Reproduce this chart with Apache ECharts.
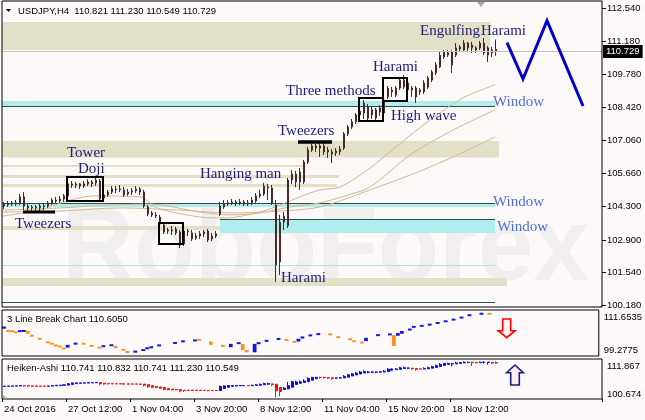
<!DOCTYPE html>
<html><head><meta charset="utf-8">
<script src="https://cdn.jsdelivr.net/npm/echarts@6/dist/echarts.min.js"></script>
<style>html,body{margin:0;padding:0;background:#fdf9f9;}#c{width:645px;height:420px;}</style>
</head><body><div id="c"></div><script>
// ---------- DATA ----------
const N = 150;
const categories = Array.from({length: N}, (_, i) => String(i));
const tickLabels = ['24 Oct 2016','27 Oct 12:00','1 Nov 04:00','3 Nov 20:00','8 Nov 12:00','11 Nov 04:00','15 Nov 20:00','18 Nov 12:00'];
const TICK_EVERY = 16;
const priceTicks = [112.540,111.180,109.780,108.420,107.060,105.660,104.300,102.900,101.540,100.180];
const lastPrice = 110.729;
const symbolTitle = 'USDJPY,H4';
const lbTitle = '3 Line Break Chart 110.6050';
const haTitle = 'Heiken-Ashi 110.741 110.832 110.741 111.230 110.549';
const lbTicks = [99.2775, 111.6535];
const haTicks = [100.674, 111.867];

// candles: [open, close, low, high]
const candles = [
[104.30,104.38,104.18,104.47],[104.38,104.34,104.26,104.51],[104.38,104.43,104.30,104.51],[104.43,104.38,104.30,104.55],
[104.43,104.68,104.34,104.80],[104.68,104.30,104.13,104.88],[104.30,104.22,104.09,104.38],[104.22,104.26,104.09,104.34],
[104.26,104.22,104.09,104.34],[104.22,104.30,104.09,104.38],[104.30,104.26,104.13,104.43],[104.30,104.43,104.22,104.51],
[104.43,104.55,104.34,104.63],[104.55,104.51,104.43,104.68],[104.51,104.59,104.43,104.72],[104.59,104.72,104.47,104.80],
[104.72,105.22,104.63,105.30],[105.22,105.17,105.05,105.34],[105.17,105.22,105.05,105.30],[105.22,105.13,105.01,105.26],
[105.13,105.22,105.05,105.34],[105.22,105.30,105.13,105.42],[105.30,105.22,105.09,105.38],[105.26,105.38,105.13,105.47],
[105.34,104.59,104.47,105.42],[104.63,104.76,104.55,104.84],[104.76,104.88,104.68,104.97],[104.88,105.01,104.80,105.13],
[105.01,104.97,104.84,105.13],[104.97,105.01,104.88,105.17],[104.97,104.76,104.68,105.09],[104.80,104.88,104.72,105.01],
[104.88,104.93,104.76,105.05],[104.93,105.01,104.84,105.13],[105.01,104.88,104.76,105.09],[104.88,104.30,104.22,104.97],
[104.26,103.97,103.88,104.34],[104.01,103.93,103.84,104.09],[103.93,103.88,103.80,104.05],[103.84,103.55,103.47,103.93],
[103.51,103.22,103.14,103.59],[103.26,103.30,103.14,103.39],[103.30,103.26,103.09,103.47],[103.34,103.18,103.09,103.43],
[103.22,102.68,102.55,103.30],[102.72,103.26,102.64,103.34],[103.26,103.22,103.05,103.34],[103.18,102.93,102.84,103.30],
[102.97,103.05,102.89,103.18],[103.05,103.14,102.93,103.26],[103.14,103.22,103.01,103.30],[103.26,102.89,102.80,103.34],
[102.93,103.05,102.84,103.18],[103.05,103.14,102.97,103.26],[103.97,104.30,103.88,104.47],[104.26,104.38,104.18,104.55],
[104.38,104.43,104.30,104.55],[104.43,104.47,104.34,104.59],[104.47,104.43,104.30,104.55],[104.43,104.47,104.34,104.59],
[104.47,104.38,104.30,104.55],[104.38,104.43,104.30,104.55],[104.43,104.55,104.34,104.68],[104.51,104.72,104.43,104.84],
[104.72,104.80,104.63,104.97],[104.80,105.13,104.72,105.26],[105.09,105.05,104.55,105.22],[105.05,104.43,104.34,105.17],
[104.34,101.85,101.14,104.55],[101.97,103.63,101.43,103.93],[103.63,103.88,103.30,104.05],[103.47,105.38,103.39,105.47],
[105.38,105.63,105.22,105.80],[105.63,105.30,105.09,105.76],[105.30,105.72,104.97,105.88],[105.30,106.13,105.22,106.22],
[106.13,106.63,106.05,106.76],[106.63,106.80,106.55,106.88],[106.80,106.71,106.55,106.88],[106.71,106.80,106.34,106.92],
[106.80,106.55,106.42,106.92],[106.55,106.63,106.30,106.76],[106.55,106.46,106.09,106.67],[106.51,106.59,106.38,106.71],
[106.55,106.67,106.42,106.80],[106.71,107.30,106.63,107.38],[107.30,107.59,107.21,107.67],[107.59,107.80,107.51,107.92],
[107.80,108.09,107.71,108.17],[108.09,108.25,108.00,108.55],[108.17,108.59,107.92,108.71],[108.42,107.96,107.88,108.55],
[108.09,108.30,107.92,108.42],[107.96,108.30,107.88,108.38],[108.21,108.38,108.05,108.50],[108.17,108.71,108.13,108.80],
[108.84,109.21,108.75,109.29],[109.05,109.13,108.84,109.25],[108.92,109.21,108.84,109.29],[109.21,109.54,109.13,109.67],
[109.54,109.25,109.17,109.75],[109.42,109.13,109.05,109.50],[109.21,109.13,108.84,109.29],[109.21,108.84,108.59,109.29],
[109.13,109.05,108.92,109.21],[109.05,109.42,108.96,109.54],[109.25,109.63,109.17,109.71],[109.54,109.88,109.46,109.96],
[109.84,110.17,109.75,110.29],[110.09,110.58,110.04,110.71],[110.50,110.71,110.42,110.79],[110.67,110.58,110.50,110.79],
[110.71,110.17,109.84,110.79],[110.58,110.88,110.50,111.08],[110.83,110.92,110.75,111.00],[111.08,110.79,110.71,111.21],
[111.08,110.88,110.75,111.13],[110.88,111.00,110.67,111.13],[110.79,110.88,110.67,110.96],[110.88,111.08,110.79,111.17],
[111.08,110.67,110.58,111.29],[110.88,110.58,110.29,110.96],[110.67,110.79,110.50,110.92],[110.821,110.729,110.549,111.230]
];

// moving averages: [bar position, price]
const maFast = [[-0.5,103.88],[9,104.13],[16.5,104.55],[22.75,104.72],[34,104.68],[38.25,104.22],[49,103.84],[55.25,103.80],[64,104.05],[69,104.34],[74,104.68],[79,104.97],[84,105.09],[91.5,105.88],[97,106.63],[106.5,107.88],[114.75,108.80],[122.75,109.34]];
const maMid = [[-0.5,104.13],[14,104.22],[26.5,104.34],[36.5,104.38],[49,104.05],[56.5,103.93],[64,104.01],[71.5,104.26],[79,104.43],[85.25,104.72],[91.5,105.09],[101.5,106.42],[112.25,107.46],[122.75,108.30]];
const maSlow = [[-0.5,104.05],[14,104.09],[29,104.22],[44,104.13],[56.5,104.01],[69,104.09],[79,104.26],[91.5,104.97],[104.75,105.80],[116,106.63],[122.75,107.17]];

// zones: [from bar, to bar, low, high]
const zones = [
[-0.5,121.5,110.793,111.957],[-0.5,122.75,108.462,108.670],[-0.5,123.75,106.319,107.005],
[-0.5,75,105.924,106.007],[-0.5,83.75,105.466,105.591],[-0.5,83.25,105.091,105.216],
[-0.5,65.25,103.302,103.468],[-0.5,122.75,104.259,104.425],[54,122.75,103.177,103.760],
[-0.5,125.75,100.972,101.305]
];
const zoneKinds = ['b','c','b','b','b','b','b','c','c','b'];
// level lines: [from bar, to bar, price]
const levels = [[-0.5,122.75,108.462],[-0.5,122.75,104.425],[54,122.75,103.760],[-0.5,122.75,101.845],[-0.5,122.75,100.306]];
const levelKinds = ['d','d','d','c','d'];
// pattern boxes: [from bar, to bar, low, high]
const boxes = [[15.75,24.75,104.51,105.51],[38.75,44.75,102.72,103.59],[88.75,94.75,107.84,108.79],[94.75,100.75,108.67,109.63]];
// pattern bars: [from bar, to bar, price]
const marks = [[4.75,12.75,104.05],[73.5,82,106.96]];
// annotations: [bar, price]
const notes = [[15.75,106.51],[18.5,105.84],[2.75,103.55],[49,105.63],[69.25,101.32],[68.5,107.42],[70.5,109.09],[92.25,110.09],[96.75,108.05],[104,111.58],[119.25,111.58],[122.25,108.63],[122.25,104.47],[123.25,103.43]];
const noteTexts = ['Tower','Doji','Tweezers','Hanging man','Harami','Tweezers','Three methods','Harami','High wave','Engulfing','Harami','Window','Window','Window'];
const noteKinds = ['n','n','n','n','n','n','n','n','n','n','n','w','w','w'];
// forecast zigzag: [bar, price]
const forecast = [[125.75,111.096],[129.75,109.585],[135.75,112.012],[144.75,108.462]];

// 3 line break bricks: [bar, open, close]
const bricks = [
[0,106.62,107.20],[1,106.16,105.80],[2,106.10,105.80],[3,105.80,105.53],[4,105.80,106.16],[5,105.85,106.16],
[6,106.08,105.26],[7,104.99,104.45],[9,104.17,103.63],[11,103.17,102.73],[12,102.73,102.46],[13,102.27,101.98],
[14,101.98,101.64],[15,101.45,101.10],[16,101.53,102.27],[18,102.46,102.73],[20,102.73,102.46],[22,102.19,101.81],
[24,101.64,101.37],[25,101.64,102.19],[27,101.98,102.35],[28,101.98,101.37],[30,101.18,100.72],[31,100.55,100.17],
[33,100.17,100.72],[35,100.64,101.10],[36,101.18,101.53],[37,101.45,101.81],[39,101.98,102.27],[43,102.54,103.00],
[45,103.08,103.36],[48,103.28,103.63],[49,103.82,103.44],[52,103.17,102.27],[55,102.19,101.81],[57,101.64,102.54],
[59,102.46,103.00],[60,102.54,100.91],[61,100.91,100.28],[63,100.28,102.54],[64,102.46,103.00],[66,103.08,103.63],
[69,103.63,104.09],[71,103.82,103.36],[73,103.28,102.89],[74,103.17,103.90],[75,103.98,104.53],[77,104.64,104.99],
[79,104.99,105.34],[82,105.26,104.91],[84,104.53,104.17],[87,103.98,103.63],[88,103.44,103.08],[90,103.08,102.73],
[91,103.28,104.17],[94,104.72,105.07],[97,104.91,105.26],[98,104.91,101.98],[99,104.72,105.45],[100,105.26,106.00],
[102,106.16,106.62],[103,106.97,107.25],[105,107.25,107.52],[107,107.52,107.90],[109,107.98,108.33],[111,108.44,108.80],
[113,108.88,109.26],[115,109.42,109.80],[117,109.97,110.51],[120,110.51,110.78],[122,110.78,110.51]
];

// Heiken-Ashi: [open, close, low, high]
const heiken = [
[104.20,104.26,104.18,104.30],[104.23,104.29,104.21,104.33],[104.26,104.32,104.24,104.36],[104.29,104.35,104.27,104.39],
[104.32,104.46,104.30,104.55],[104.39,104.36,104.10,104.45],[104.38,104.30,104.05,104.40],[104.34,104.28,104.08,104.36],
[104.31,104.26,104.10,104.33],[104.29,104.25,104.12,104.31],[104.27,104.24,104.12,104.29],[104.26,104.32,104.24,104.40],
[104.29,104.45,104.27,104.52],[104.37,104.52,104.35,104.58],[104.44,104.55,104.42,104.62],[104.50,104.64,104.48,104.70],
[104.57,104.95,104.55,105.10],[104.76,105.17,104.74,105.25],[104.96,105.19,104.94,105.25],[105.07,105.16,105.03,105.22],
[105.12,105.19,105.08,105.25],[105.15,105.27,105.13,105.33],[105.21,105.25,105.17,105.30],[105.23,105.31,105.20,105.38],
[105.27,104.95,104.55,105.30],[105.11,104.90,104.70,105.12],[105.00,104.92,104.75,105.02],[104.96,104.94,104.85,104.98],
[104.95,104.93,104.85,104.97],[104.94,104.92,104.86,104.96],[104.93,104.85,104.70,104.95],[104.89,104.86,104.75,104.91],
[104.88,104.85,104.77,104.90],[104.87,104.84,104.80,104.89],[104.86,104.80,104.75,104.88],[104.83,104.55,104.22,104.85],
[104.69,104.10,103.88,104.70],[104.40,103.96,103.84,104.41],[104.18,103.90,103.80,104.20],[104.04,103.68,103.47,104.05],
[103.86,103.35,103.14,103.87],[103.61,103.27,103.14,103.62],[103.44,103.25,103.09,103.45],[103.35,103.24,103.09,103.36],
[103.30,102.95,102.55,103.31],[103.12,103.05,102.64,103.13],[103.12,103.10,103.02,103.14],[103.11,103.08,102.90,103.13],
[103.10,103.08,102.95,103.12],[103.09,103.07,102.97,103.11],[103.08,103.06,103.00,103.10],[103.07,103.04,102.85,103.09],
[103.06,103.04,102.90,103.08],[103.05,103.03,102.98,103.07],[103.04,104.15,103.02,104.47],[103.60,104.34,103.58,104.55],
[103.97,104.41,103.95,104.55],[104.19,104.46,104.17,104.59],[104.32,104.44,104.30,104.55],[104.38,104.46,104.34,104.59],
[104.42,104.43,104.30,104.55],[104.43,104.42,104.30,104.45],[104.42,104.50,104.34,104.68],[104.46,104.63,104.43,104.84],
[104.54,104.78,104.52,104.97],[104.66,104.98,104.64,105.26],[104.82,104.98,104.55,105.22],[104.90,104.75,104.34,104.92],
[104.82,102.97,101.14,104.83],[103.90,102.74,101.43,103.93],[103.32,103.72,103.30,104.05],[103.52,104.41,103.39,105.47],
[103.97,105.51,103.95,105.80],[104.74,105.45,104.72,105.76],[105.10,105.47,104.97,105.88],[105.28,105.72,105.22,106.22],
[105.50,106.39,105.48,106.76],[105.95,106.72,105.93,106.88],[106.33,106.74,106.31,106.88],[106.72,106.68,106.34,106.92],
[106.70,106.62,106.42,106.92],[106.66,106.56,106.30,106.76],[106.61,106.45,106.09,106.67],[106.53,106.55,106.38,106.71],
[106.54,106.61,106.42,106.80],[106.58,107.00,106.56,107.38],[106.79,107.44,106.77,107.67],[107.12,107.70,107.10,107.92],
[107.41,107.94,107.39,108.17],[107.68,108.22,107.66,108.55],[107.95,108.35,107.92,108.71],[108.15,108.20,107.88,108.55],
[108.18,108.21,107.92,108.42],[108.19,108.21,107.88,108.38],[108.20,108.28,108.05,108.50],[108.24,108.45,108.13,108.80],
[108.35,109.02,108.33,109.29],[108.69,109.07,108.67,109.25],[108.88,109.10,108.84,109.29],[108.99,109.40,108.97,109.67],
[109.20,109.43,109.17,109.75],[109.31,109.32,109.05,109.50],[109.31,109.12,108.84,109.33],[109.22,108.98,108.59,109.29],
[109.10,109.08,108.92,109.21],[109.09,109.24,108.96,109.54],[109.16,109.44,109.14,109.71],[109.30,109.71,109.28,109.96],
[109.50,110.01,109.48,110.29],[109.76,110.36,109.74,110.71],[110.06,110.60,110.04,110.79],[110.33,110.64,110.31,110.79],
[110.48,110.55,109.84,110.79],[110.52,110.76,110.50,111.08],[110.64,110.90,110.62,111.00],[110.77,110.95,110.71,111.21],
[110.86,110.96,110.75,111.13],[110.91,110.85,109.90,111.13],[110.88,110.83,110.67,110.96],[110.85,110.97,110.79,111.17],
[110.91,110.95,110.58,111.29],[110.93,110.98,110.29,110.99],[110.95,110.72,110.50,110.96],[110.832,110.741,110.549,111.230]
];

// ---------- STYLE ----------
const SANS = '"Liberation Sans", Arial, sans-serif';
const SERIF = '"Liberation Serif", "Times New Roman", serif';
const NAVY = '#22207a', WINBLUE = '#5070d8', BEIGE = '#e2e0c6', CYAN = '#b0eeee', DARKLINE = '#2f4f4f';
const TAN = '#d6b892', CANDLE = '#4a2828', LB_UP = '#1414e0', LB_DN = '#f8941e', HA_UP = '#0a0ae6', HA_DN = '#f01010';

// main chart scale: 112.540 at y=8, 100.180 at y=305, frame y 1..307
const PPU = (305 - 8) / (112.540 - 100.180);
const MAIN_MAX = 112.540 + 7 / PPU, MAIN_MIN = 100.180 - 2 / PPU;

const chart = echarts.init(document.getElementById('c'), null, {renderer: 'canvas'});

const last = candles[candles.length - 1];
const header = symbolTitle + '  ' + [last[0], last[3], last[2], last[1]].map(v => v.toFixed(3)).join(' ');

function zoneItem(params, api) {
  const a = api.coord([api.value(0), api.value(3)]);
  const b = api.coord([api.value(1), api.value(2)]);
  return {type: 'rect', shape: {x: a[0], y: a[1], width: b[0] - a[0], height: b[1] - a[1]},
    style: {fill: zoneKinds[params.dataIndex] === 'c' ? CYAN : BEIGE}};
}
function levelItem(params, api) {
  const a = api.coord([api.value(0), api.value(2)]);
  const b = api.coord([api.value(1), api.value(2)]);
  const y = Math.round(a[1]) + 0.5;
  return {type: 'line', shape: {x1: a[0], y1: y, x2: b[0], y2: y},
    style: {stroke: levelKinds[params.dataIndex] === 'c' ? '#a8e6ee' : DARKLINE, lineWidth: 1}};
}
function boxItem(params, api) {
  const a = api.coord([api.value(0), api.value(3)]);
  const b = api.coord([api.value(1), api.value(2)]);
  return {type: 'rect', shape: {x: a[0], y: a[1], width: b[0] - a[0], height: b[1] - a[1]},
    style: {fill: 'none', stroke: '#000', lineWidth: 2}};
}
function markItem(params, api) {
  const a = api.coord([api.value(0), api.value(2)]);
  const b = api.coord([api.value(1), api.value(2)]);
  return {type: 'line', shape: {x1: a[0], y1: a[1], x2: b[0], y2: a[1]},
    style: {stroke: '#000', lineWidth: params.dataIndex === 0 ? 3 : 3.5}};
}
function noteItem(params, api) {
  const p = api.coord([api.value(0), api.value(1)]);
  return {type: 'text', x: p[0], y: p[1], style: {text: noteTexts[params.dataIndex],
    fill: noteKinds[params.dataIndex] === 'w' ? WINBLUE : NAVY, font: '15px ' + SERIF, align: 'left', verticalAlign: 'middle'}};
}
function brickItem(params, api) {
  const o = api.value(1), c = api.value(2);
  const a = api.coord([api.value(0), Math.max(o, c)]);
  const b = api.coord([api.value(0), Math.min(o, c)]);
  const w = api.size([1, 0])[0] * 0.95;
  const h = Math.max(2, b[1] - a[1]);
  return {type: 'rect', shape: {x: a[0] - w / 2, y: (a[1] + b[1]) / 2 - h / 2, width: w, height: h},
    style: {fill: c > o ? LB_UP : LB_DN}};
}
// right-hand price scale: tick mark + label at each price tick value
function priceTickItem(params, api) {
  const v = api.value(1);
  const y = Math.round(api.coord([0, v])[1]) + 0.5;
  const x = params.coordSys.x + params.coordSys.width;
  return {type: 'group', children: [
    {type: 'line', shape: {x1: x, y1: y, x2: x + 4, y2: y}, style: {stroke: '#000', lineWidth: 1}},
    {type: 'text', x: x + 5, y: y, style: {text: v.toFixed(3), font: '9.5px ' + SANS, fill: '#000', align: 'left', verticalAlign: 'middle'}}
  ]};
}

const hiddenCat = (g) => ({type: 'category', gridIndex: g, data: categories, boundaryGap: true, show: false});

const option = {
  animation: false,
  backgroundColor: '#fdf9f9',
  textStyle: {fontFamily: SANS},
  grid: [
    {left: 2, top: 1, width: 600, height: 306, show: true, borderColor: '#000', borderWidth: 1, backgroundColor: 'transparent', z: 10},
    {left: 2, top: 310, width: 600, height: 46, show: true, borderColor: '#000', borderWidth: 1, backgroundColor: 'transparent', z: 10},
    {left: 2, top: 359, width: 600, height: 40, show: true, borderColor: '#000', borderWidth: 1, backgroundColor: 'transparent', z: 10}
  ],
  xAxis: [
    hiddenCat(0),
    {type: 'value', gridIndex: 0, min: -0.5, max: N - 0.5, show: false},
    hiddenCat(1),
    {type: 'category', gridIndex: 2, data: categories, boundaryGap: true,
      axisLine: {show: false},
      axisTick: {show: true, length: 3, lineStyle: {color: '#000'},
        interval: (i) => i % TICK_EVERY === 0 && i / TICK_EVERY < tickLabels.length},
      axisLabel: {show: true, color: '#000', fontSize: 9.5, fontFamily: SANS, align: 'left', margin: 5,
        interval: (i) => i % TICK_EVERY === 0 && i / TICK_EVERY < tickLabels.length,
        formatter: (v, i) => tickLabels[i / TICK_EVERY] || ''}}
  ],
  yAxis: [
    {type: 'value', gridIndex: 0, position: 'right', min: MAIN_MIN, max: MAIN_MAX, show: false},
    {type: 'value', gridIndex: 1, position: 'right', min: lbTicks[0], max: lbTicks[1],
      splitLine: {show: false}, axisLine: {show: false}, axisTick: {show: false},
      axisLabel: {show: true, color: '#000', fontSize: 9.5, fontFamily: SANS, margin: 5, customValues: lbTicks,
        formatter: (v) => (v > lbTicks[0] + 1 ? '{t|' : '{b|') + v.toFixed(4) + '}',
        rich: {t: {padding: [14, 0, 0, 0], fontSize: 9.5, color: '#000'}, b: {padding: [0, 0, 11, 0], fontSize: 9.5, color: '#000'}}}},
    {type: 'value', gridIndex: 2, position: 'right', min: haTicks[0], max: haTicks[1],
      splitLine: {show: false}, axisLine: {show: false}, axisTick: {show: false},
      axisLabel: {show: true, color: '#000', fontSize: 9.5, fontFamily: SANS, margin: 5, customValues: haTicks,
        formatter: (v) => (v > haTicks[0] + 1 ? '{t|' : '{b|') + v.toFixed(3) + '}',
        rich: {t: {padding: [15, 0, 0, 0], fontSize: 9.5, color: '#000'}, b: {padding: [0, 0, 10, 0], fontSize: 9.5, color: '#000'}}}}
  ],
  graphic: [
    {type: 'text', x: 62, y: 251, z: 0, silent: true, scaleX: 0.96,
      style: {text: 'RoboForex', font: 'bold 104px ' + SANS, fill: '#f0eeee', verticalAlign: 'middle'}},
    {type: 'polygon', z: 100, shape: {points: [[6, 9], [11, 9], [8.5, 12]]}, style: {fill: '#000'}},
    {type: 'text', x: 18, y: 11, z: 100, style: {text: header, font: '9.5px ' + SANS, fill: '#000', verticalAlign: 'middle'}},
    {type: 'text', x: 7, y: 319, z: 100, style: {text: lbTitle, font: '9.5px ' + SANS, fill: '#000', verticalAlign: 'middle'}},
    {type: 'text', x: 7, y: 368, z: 100, style: {text: haTitle, font: '9.5px ' + SANS, fill: '#000', verticalAlign: 'middle'}},
    {type: 'polygon', z: 100, shape: {points: [[477, 2], [485, 2], [481, 7]]}, style: {fill: '#a8a8a8'}},
    {type: 'polygon', z: 100, shape: {points: [[3, 395], [3, 398.5], [7, 398.5]]}, style: {fill: '#a8a8a8'}},
    {type: 'polygon', z: 100, shape: {points: [[502.7, 319], [510.7, 319], [510.7, 330.7], [515, 330.7], [506.7, 337.7], [498.3, 330.7], [502.7, 330.7]]},
      style: {fill: '#fff4f4', stroke: '#ff0000', lineWidth: 1.6}},
    {type: 'polygon', z: 100, shape: {points: [[515, 365], [523.3, 372.7], [519.3, 372.7], [519.3, 385], [510.7, 385], [510.7, 372.7], [506.7, 372.7]]},
      style: {fill: '#fbeef3', stroke: '#1c1c80', lineWidth: 1.6}}
  ],
  series: [
    {type: 'custom', name: 'zones', xAxisIndex: 1, yAxisIndex: 0, z: 1, silent: true,
      encode: {x: [0, 1], y: [2, 3]}, renderItem: zoneItem, data: zones},
    {type: 'custom', name: 'levels', xAxisIndex: 1, yAxisIndex: 0, z: 1, silent: true,
      encode: {x: [0, 1], y: 2}, renderItem: levelItem, data: levels},
    {type: 'custom', name: 'price scale', xAxisIndex: 1, yAxisIndex: 0, z: 5, silent: true, clip: false,
      encode: {x: 0, y: 1}, renderItem: priceTickItem, data: priceTicks.map(v => [0, v])},
    {type: 'line', name: 'MA fast', xAxisIndex: 1, yAxisIndex: 0, z: 2, smooth: 0.3, symbol: 'none', silent: true,
      lineStyle: {color: TAN, width: 1}, data: maFast},
    {type: 'line', name: 'MA mid', xAxisIndex: 1, yAxisIndex: 0, z: 2, smooth: 0.3, symbol: 'none', silent: true,
      lineStyle: {color: TAN, width: 1}, data: maMid},
    {type: 'line', name: 'MA slow', xAxisIndex: 1, yAxisIndex: 0, z: 2, smooth: 0.3, symbol: 'none', silent: true,
      lineStyle: {color: TAN, width: 1}, data: maSlow},
    {type: 'candlestick', name: 'USDJPY', xAxisIndex: 0, yAxisIndex: 0, z: 3, barWidth: 2, silent: true,
      itemStyle: {color: '#ffffff', color0: CANDLE, borderColor: CANDLE, borderColor0: CANDLE, borderWidth: 1},
      data: candles,
      markLine: {silent: true, symbol: ['none', 'none'], animation: false,
        lineStyle: {color: '#c4c4c4', width: 1, type: 'solid'},
        label: {show: true, position: 'end', distance: 1, formatter: () => lastPrice.toFixed(3), color: '#fff',
          backgroundColor: '#000', padding: [2, 3, 1, 3], fontSize: 9.5, fontFamily: SANS},
        data: [{yAxis: lastPrice}]}},
    {type: 'custom', name: 'boxes', xAxisIndex: 1, yAxisIndex: 0, z: 4, silent: true,
      encode: {x: [0, 1], y: [2, 3]}, renderItem: boxItem, data: boxes},
    {type: 'custom', name: 'marks', xAxisIndex: 1, yAxisIndex: 0, z: 4, silent: true,
      encode: {x: [0, 1], y: 2}, renderItem: markItem, data: marks},
    {type: 'custom', name: 'notes', xAxisIndex: 1, yAxisIndex: 0, z: 5, silent: true,
      encode: {x: 0, y: 1}, renderItem: noteItem, data: notes},
    {type: 'line', name: 'forecast', xAxisIndex: 1, yAxisIndex: 0, z: 5, symbol: 'none', silent: true,
      lineStyle: {color: '#0000c8', width: 3, join: 'miter'}, data: forecast},
    {type: 'custom', name: '3 Line Break', xAxisIndex: 2, yAxisIndex: 1, z: 3, silent: true,
      encode: {x: 0, y: [1, 2]}, renderItem: brickItem, data: bricks},
    {type: 'candlestick', name: 'Heiken-Ashi', xAxisIndex: 3, yAxisIndex: 2, z: 3, barWidth: 2.5, silent: true,
      itemStyle: {color: HA_UP, color0: HA_DN, borderColor: HA_UP, borderColor0: HA_DN, borderWidth: 1},
      data: heiken}
  ]
};
chart.setOption(option);
</script></body></html>
